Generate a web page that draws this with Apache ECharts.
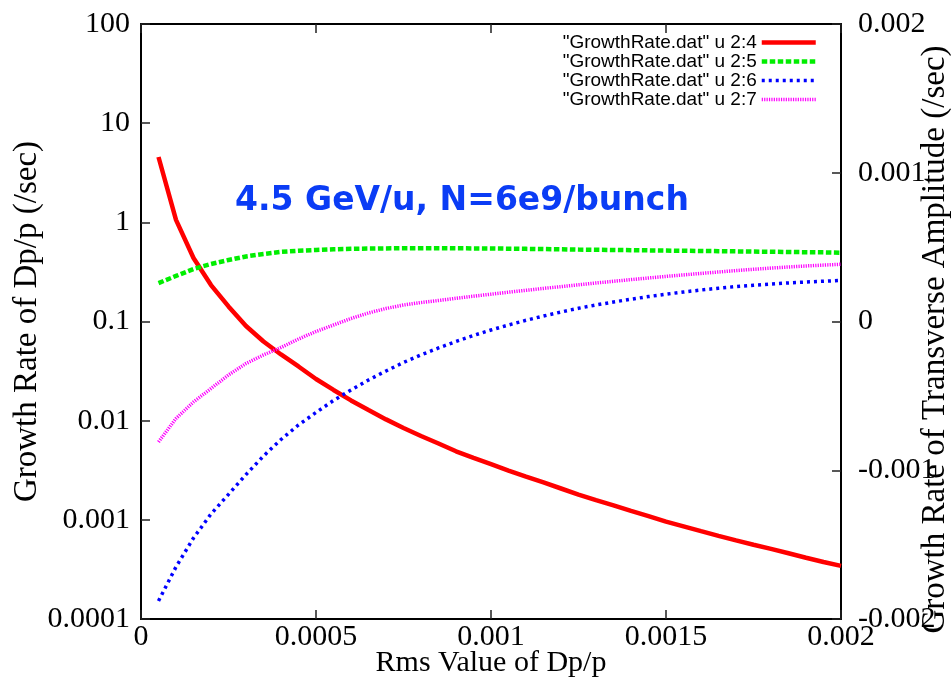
<!DOCTYPE html>
<html>
<head>
<meta charset="utf-8">
<script src="https://cdn.jsdelivr.net/npm/echarts@6/dist/echarts.min.js"></script>
<style>html,body{margin:0;padding:0;background:#fff;}#c{width:951px;height:682px;}</style>
</head>
<body>
<div id="c"></div>
<script>
// Rms value of Dp/p (x)
const xValues = [0.00005,0.0001,0.00015,0.0002,0.00025,0.0003,0.00035,0.0004,0.00045,0.0005,
  0.00055,0.0006,0.00065,0.0007,0.00075,0.0008,0.00085,0.0009,0.00095,0.001,
  0.00105,0.0011,0.00115,0.0012,0.00125,0.0013,0.00135,0.0014,0.00145,0.0015,
  0.00155,0.0016,0.00165,0.0017,0.00175,0.0018,0.00185,0.0019,0.00195,0.002];
// column 4
const col4 = [4.56,1.06,0.437,0.233,0.142,0.090,0.0628,0.0465,0.0352,0.0263,
  0.0204,0.0160,0.0128,0.0103,0.00844,0.0070,0.00589,0.00491,0.00421,0.00364,
  0.00314,0.00273,0.00238,0.00207,0.0018,0.00158,0.00140,0.00123,0.00109,0.00096,
  0.00086,0.00077,0.00069,0.00062,0.00056,0.00051,0.00046,0.000415,0.000376,0.000343];
// column 5
const col5 = [0.244,0.288,0.338,0.380,0.417,0.453,0.480,0.503,0.517,0.526,
  0.535,0.541,0.544,0.546,0.548,0.548,0.548,0.547,0.546,0.545,
  0.5425,0.540,0.5375,0.535,0.531,0.529,0.526,0.524,0.5215,0.519,
  0.5165,0.514,0.512,0.5095,0.507,0.505,0.502,0.500,0.498,0.494];
// column 6
const col6 = [0.000152,0.000335,0.000656,0.001146,0.001805,0.00286,0.0044,0.00646,0.00905,0.01209,
  0.01598,0.0204,0.0257,0.0317,0.0386,0.0460,0.0541,0.0629,0.0723,0.0821,
  0.0922,0.1028,0.1136,0.1247,0.1359,0.1467,0.1572,0.1679,0.1784,0.1885,
  0.1984,0.2078,0.2167,0.2249,0.2323,0.2389,0.2450,0.2502,0.2550,0.2592];
// column 7
const col7 = [0.0061,0.01052,0.01543,0.0211,0.0289,0.0377,0.0460,0.0547,0.0666,0.0793,
  0.0922,0.1072,0.1219,0.1353,0.1467,0.1554,0.1628,0.1714,0.180,0.1885,
  0.1975,0.2064,0.2157,0.2249,0.2345,0.2445,0.2544,0.2646,0.2746,0.285,
  0.2951,0.3055,0.3157,0.3262,0.3362,0.3457,0.3546,0.3630,0.3706,0.3776];

const seriesNames = ['"GrowthRate.dat" u 2:4','"GrowthRate.dat" u 2:5','"GrowthRate.dat" u 2:6','"GrowthRate.dat" u 2:7'];
const xTickLabels = ['0','0.0005','0.001','0.0015','0.002'];
const yTickLabels = ['0.0001','0.001','0.01','0.1','1','10','100'];
const y2TickLabels = ['-0.002','-0.001','0','0.001','0.002'];
const titleText = '4.5 GeV/u, N=6e9/bunch';
const xName = 'Rms Value of Dp/p';
const yName = 'Growth Rate of Dp/p (/sec)';
const y2Name = 'Growth Rate of Transverse Amplitude (/sec)';

const pairs = arr => xValues.map((x, i) => [x, arr[i]]);
const serif = 'Liberation Serif';
const axisLineStyle = {color: '#000', width: 2};
const tickStyle = {color: '#222', width: 1.5};
const styles = [
  {color: '#ff0000', width: 4.5, type: 'solid'},
  {color: '#00ee00', width: 4.5, type: [5.5, 2.5]},
  {color: '#0000ff', width: 3.5, type: [3, 4]},
  {color: '#ff00ff', width: 3.5, type: [1.2, 1.2]}
];

const chart = echarts.init(document.getElementById('c'), null, {renderer: 'canvas'});
chart.setOption({
  animation: false,
  backgroundColor: '#fff',
  grid: {left: 141, right: 110, top: 24, bottom: 63, containLabel: false, outerBoundsMode: 'none'},
  legend: {
    orient: 'vertical', align: 'right', right: 128, top: 28,
    itemWidth: 54, itemHeight: 10, itemGap: 0,
    itemStyle: {opacity: 0},
    textStyle: {fontFamily: 'Liberation Sans', fontSize: 19, color: '#000', lineHeight: 19},
    data: seriesNames.map((n, i) => ({name: n, lineStyle: {width: styles[i].width, type: styles[i].type, color: styles[i].color}}))
  },
  graphic: [{
    type: 'text', x: 462, y: 201,
    style: {text: titleText, fill: '#0a3cf5', font: 'bold 33px "DejaVu Sans"', textAlign: 'center', textVerticalAlign: 'middle'}
  }],
  xAxis: [{
    type: 'value', min: 0, max: 0.002, interval: 0.0005,
    name: xName, nameLocation: 'middle', nameGap: 29, nameMoveOverlap: false,
    nameTextStyle: {fontFamily: serif, fontSize: 30, color: '#000'},
    axisLine: {show: true, onZero: false, lineStyle: axisLineStyle},
    axisTick: {show: true, inside: true, length: 9, lineStyle: tickStyle},
    axisLabel: {fontFamily: serif, fontSize: 30, color: '#000', margin: 3,
      formatter: v => xTickLabels[Math.round(v / 0.0005)]},
    splitLine: {show: false}
  }, {
    type: 'value', position: 'top', min: 0, max: 0.002, interval: 0.0005,
    axisLine: {show: true, onZero: false, lineStyle: axisLineStyle},
    axisTick: {show: true, inside: true, length: 9, lineStyle: tickStyle},
    axisLabel: {show: false}, splitLine: {show: false}
  }],
  yAxis: [{
    type: 'log', logBase: 10, min: 0.0001, max: 100, splitNumber: 6, interval: 1,
    name: yName, nameLocation: 'middle', nameGap: 97, nameRotate: 90, nameMoveOverlap: false,
    nameTextStyle: {fontFamily: serif, fontSize: 33, color: '#000'},
    axisLine: {show: true, onZero: false, lineStyle: axisLineStyle},
    axisTick: {show: true, inside: true, length: 9, lineStyle: tickStyle},
    minorTick: {show: false},
    axisLabel: {fontFamily: serif, fontSize: 30, color: '#000', margin: 11,
      formatter: v => yTickLabels[Math.round(Math.log10(v)) + 4]},
    splitLine: {show: false}
  }, {
    type: 'value', position: 'right', min: -0.002, max: 0.002, interval: 0.001,
    name: y2Name, nameLocation: 'middle', nameGap: 78, nameRotate: 90, nameMoveOverlap: false,
    nameTextStyle: {fontFamily: serif, fontSize: 33, color: '#000', padding: [0, 36, 0, 0]},
    axisLine: {show: true, onZero: false, lineStyle: axisLineStyle},
    axisTick: {show: true, inside: true, length: 9, lineStyle: tickStyle},
    axisLabel: {fontFamily: serif, fontSize: 30, color: '#000', margin: 17,
      formatter: v => y2TickLabels[Math.round(v / 0.001) + 2]},
    splitLine: {show: false}
  }],
  series: seriesNames.map((n, i) => ({
    name: n, type: 'line', data: pairs([col4, col5, col6, col7][i]), symbol: 'none', showSymbol: false,
    lineStyle: styles[i], itemStyle: {color: styles[i].color}
  }))
});
</script>
</body>
</html>
